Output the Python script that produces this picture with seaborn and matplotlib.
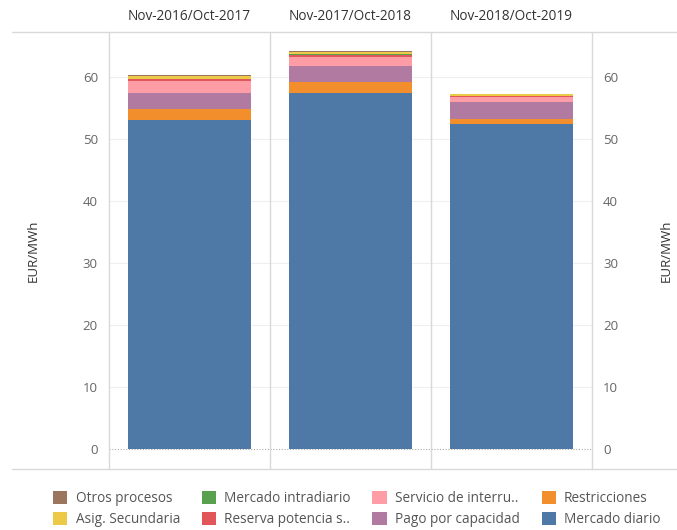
import numpy as np
import pandas as pd
import matplotlib
matplotlib.use('Agg')
import matplotlib.pyplot as plt
from matplotlib.lines import Line2D
from matplotlib.patches import Patch
import seaborn as sns

periods = ['Nov-2016/Oct-2017', 'Nov-2017/Oct-2018', 'Nov-2018/Oct-2019']

# stack order, bottom to top
components = ['Mercado diario', 'Restricciones', 'Pago por capacidad',
              'Servicio de interru..', 'Reserva potencia s..', 'Mercado intradiario',
              'Asig. Secundaria', 'Otros procesos']
mercado_diario = [53.1, 57.5, 52.4]
restricciones = [1.8, 1.7, 0.9]
pago_capacidad = [2.6, 2.5, 2.6]
servicio_interr = [1.9, 1.5, 0.8]
reserva_potencia = [0.2, 0.4, 0.2]
mercado_intradiario = [0.05, 0.05, 0.05]
asig_secundaria = [0.5, 0.4, 0.25]
otros_procesos = [0.15, 0.15, 0.1]

colors = {
    'Mercado diario': '#4e79a7',
    'Restricciones': '#f28e2b',
    'Pago por capacidad': '#b07aa1',
    'Servicio de interru..': '#ff9da7',
    'Reserva potencia s..': '#e15759',
    'Mercado intradiario': '#59a14f',
    'Asig. Secundaria': '#edc948',
    'Otros procesos': '#9c755f',
}

values = [mercado_diario, restricciones, pago_capacidad, servicio_interr,
          reserva_potencia, mercado_intradiario, asig_secundaria, otros_procesos]
df = pd.DataFrame(np.array(values).T, columns=components)
df['period'] = periods
cum = df[components].cumsum(axis=1)

sns.set_style('white')
plt.rcParams['font.family'] = ['Open Sans', 'DejaVu Sans']

fig = plt.figure(figsize=(6.77, 5.30), dpi=100)
ax = fig.add_axes([109 / 677, 1 - 469 / 530, (592 - 109) / 677, (469 - 32) / 530])

# draw cumulative layers from top down so each one covers the rest
for comp in reversed(components):
    sns.barplot(x=df['period'], y=cum[comp], color=colors[comp], width=0.76,
                saturation=1, ax=ax, linewidth=0)

ymin, ymax = -3.23, 67.26
ax.set_ylim(ymin, ymax)
ax.set_xlim(-0.5, 2.5)
ax.set_yticks(range(0, 61, 10))
for y in range(10, 61, 10):
    ax.axhline(y, color='#efefef', lw=0.8, zorder=0)
ax.axhline(0, color='#aaaaaa', lw=0.8, ls=(0, (1, 1.5)), zorder=0)
for xs in (0.5, 1.5):
    ax.axvline(xs, color='#d9d9d9', lw=1, zorder=0)

ax.set_xlabel('')
ax.set_ylabel('EUR/MWh', color='#333333', fontsize=9.5, labelpad=31)
ax.set_xticks([])
ax.tick_params(axis='y', length=0, pad=8, labelsize=9.5, labelcolor='#666666')
for s in ('top', 'bottom'):
    ax.spines[s].set_visible(False)
for s in ('left', 'right'):
    ax.spines[s].set_color('#d9d9d9')
    ax.spines[s].set_linewidth(1)

ax2 = ax.twinx()
ax2.set_ylim(ymin, ymax)
ax2.set_yticks(range(0, 61, 10))
ax2.tick_params(axis='y', length=0, pad=8, labelsize=9.5, labelcolor='#666666')
ax2.set_ylabel('EUR/MWh', color='#333333', fontsize=9.5, labelpad=30, rotation=90)
for s in ax2.spines.values():
    s.set_visible(False)

for i, p in enumerate(periods):
    ax.text(i, 1.0 + 16 / 437, p, transform=ax.get_xaxis_transform(),
            ha='center', va='center', fontsize=9.8, color='#333333')

# header and footer rules
fig.add_artist(Line2D([12 / 677, 1], [1 - 32 / 530] * 2, color='#d9d9d9', lw=1))
fig.add_artist(Line2D([12 / 677, 1], [1 - 469 / 530] * 2, color='#d9d9d9', lw=1))

legend_order = ['Otros procesos', 'Asig. Secundaria', 'Mercado intradiario',
                'Reserva potencia s..', 'Servicio de interru..', 'Pago por capacidad',
                'Restricciones', 'Mercado diario']
handles = [Patch(facecolor=colors[c], edgecolor='none', label=c) for c in legend_order]
fig.legend(handles=handles, ncol=4, loc='center', bbox_to_anchor=(0.527, 1 - 509 / 530),
           frameon=False, fontsize=9.8, labelcolor='#555555', handlelength=1.05,
           handleheight=1.05, handletextpad=0.6, columnspacing=1.6, labelspacing=0.45)

fig.savefig('out.png', dpi=100)
